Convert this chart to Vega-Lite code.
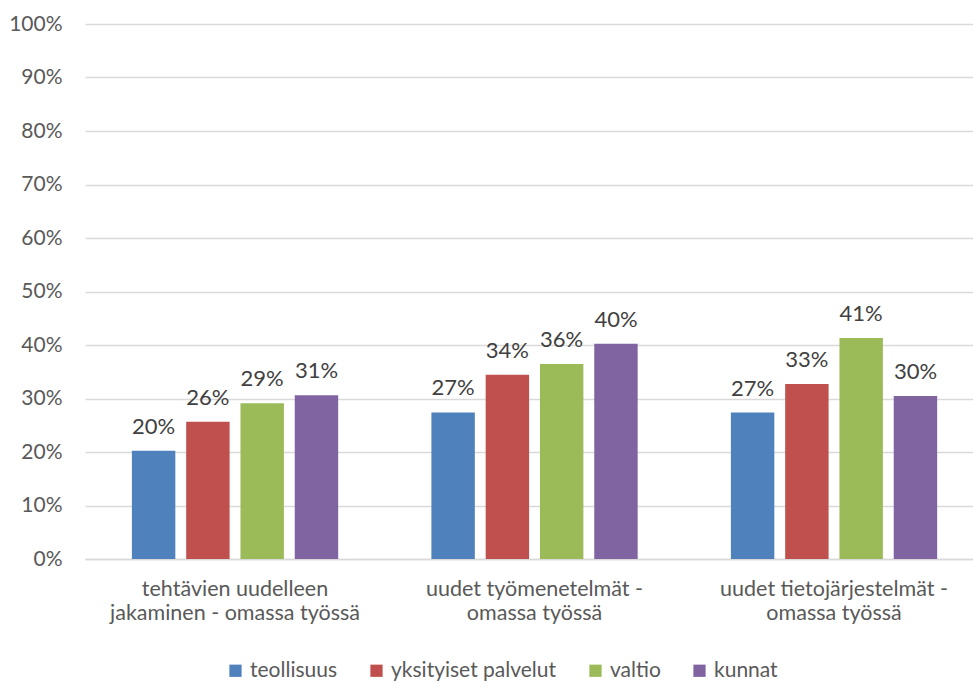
{
  "$schema": "https://vega.github.io/schema/vega-lite/v6.json",
  "width": 888,
  "height": 535,
  "padding": {"left": 85, "top": 24, "right": 0, "bottom": 124},
  "autosize": {"type": "none"},
  "background": "white",
  "config": {
    "view": {"stroke": null},
    "font": "Lato",
    "axis": {"labelFont": "Lato", "labelFontSize": 21, "labelColor": "#595959"},
    "legend": {"labelFont": "Lato", "labelFontSize": 21, "labelColor": "#595959"}
  },
  "data": {
    "values": [
      {"kategoria": "tehtävien uudelleen jakaminen - omassa työssä", "sektori": "teollisuus", "osuus": 0.2024},
      {"kategoria": "tehtävien uudelleen jakaminen - omassa työssä", "sektori": "yksityiset palvelut", "osuus": 0.2567},
      {"kategoria": "tehtävien uudelleen jakaminen - omassa työssä", "sektori": "valtio", "osuus": 0.291},
      {"kategoria": "tehtävien uudelleen jakaminen - omassa työssä", "sektori": "kunnat", "osuus": 0.306},
      {"kategoria": "uudet työmenetelmät - omassa työssä", "sektori": "teollisuus", "osuus": 0.274},
      {"kategoria": "uudet työmenetelmät - omassa työssä", "sektori": "yksityiset palvelut", "osuus": 0.3445},
      {"kategoria": "uudet työmenetelmät - omassa työssä", "sektori": "valtio", "osuus": 0.3645},
      {"kategoria": "uudet työmenetelmät - omassa työssä", "sektori": "kunnat", "osuus": 0.4025},
      {"kategoria": "uudet tietojärjestelmät - omassa työssä", "sektori": "teollisuus", "osuus": 0.2736},
      {"kategoria": "uudet tietojärjestelmät - omassa työssä", "sektori": "yksityiset palvelut", "osuus": 0.327},
      {"kategoria": "uudet tietojärjestelmät - omassa työssä", "sektori": "valtio", "osuus": 0.413},
      {"kategoria": "uudet tietojärjestelmät - omassa työssä", "sektori": "kunnat", "osuus": 0.3047}
    ]
  },
  "encoding": {
    "x": {
      "field": "kategoria",
      "type": "nominal",
      "sort": null,
      "scale": {"paddingInner": 0.275, "paddingOuter": 0.12, "align": 0.577},
      "axis": {
        "title": null,
        "labelAngle": 0,
        "labelLimit": 0,
        "labelFontSize": 21.5,
        "ticks": false,
        "domain": true,
        "domainColor": "#d9d9d9",
        "domainWidth": 1.5,
        "labelPadding": 19,
        "labelLineHeight": 24,
        "labelBaseline": "top",
        "labelExpr": "datum.value == 'tehtävien uudelleen jakaminen - omassa työssä' ? ['tehtävien uudelleen', 'jakaminen - omassa työssä'] : datum.value == 'uudet työmenetelmät - omassa työssä' ? ['uudet työmenetelmät -', 'omassa työssä'] : ['uudet tietojärjestelmät -', 'omassa työssä']"
      }
    },
    "xOffset": {
      "field": "sektori",
      "type": "nominal",
      "sort": ["teollisuus", "yksityiset palvelut", "valtio", "kunnat"],
      "scale": {"paddingInner": 0.2, "paddingOuter": 0.1}
    },
    "y": {
      "field": "osuus",
      "type": "quantitative",
      "scale": {"domain": [0, 1], "nice": false},
      "axis": {
        "title": null,
        "values": [0, 0.1, 0.2, 0.3, 0.4, 0.5, 0.6, 0.7, 0.8, 0.9, 1],
        "format": ".0%",
        "domain": false,
        "ticks": false,
        "labelPadding": 23,
        "gridColor": "#d9d9d9",
        "gridWidth": 1.5
      }
    }
  },
  "layer": [
    {
      "mark": {"type": "bar"},
      "encoding": {
        "color": {
          "field": "sektori",
          "type": "nominal",
          "sort": ["teollisuus", "yksityiset palvelut", "valtio", "kunnat"],
          "scale": {
            "domain": ["teollisuus", "yksityiset palvelut", "valtio", "kunnat"],
            "range": ["#4f81bd", "#c0504d", "#9bbb59", "#8064a2"]
          },
          "legend": {
            "title": null,
            "orient": "none",
            "direction": "horizontal",
            "legendX": 140,
            "legendY": 636,
            "labelLimit": 0,
            "symbolType": "square",
            "symbolSize": 150,
            "symbolStrokeWidth": 0,
            "symbolOpacity": 1,
            "labelOffset": 4,
            "columnPadding": 28
          }
        }
      }
    },
    {
      "mark": {"type": "text", "dy": -17, "baseline": "alphabetic", "fontSize": 22, "color": "#404040", "font": "Lato"},
      "encoding": {
        "text": {"field": "osuus", "type": "quantitative", "format": ".0%"}
      }
    }
  ]
}
